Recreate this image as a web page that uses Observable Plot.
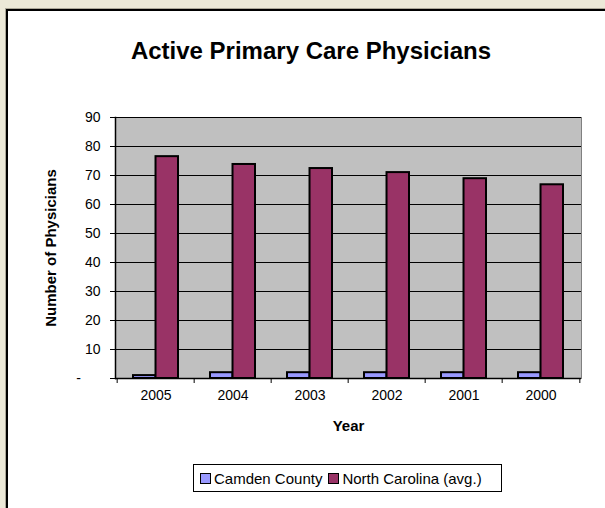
<!DOCTYPE html>
<html><head><meta charset="utf-8">
<script src="https://cdn.jsdelivr.net/npm/d3@7"></script>
<script src="https://cdn.jsdelivr.net/npm/@observablehq/plot@0.6"></script>
<style>
html,body{margin:0;padding:0;background:#ECE9D8;width:605px;height:508px;overflow:hidden;font-family:"Liberation Sans",Arial,sans-serif;}
#panel{position:absolute;left:6px;top:9px;width:700px;height:600px;background:#fff;border-left:2px solid #000;border-top:2px solid #000;box-shadow:-1px -1px 0 #aca899;}
#chart{position:absolute;left:0;top:0;}
#title{position:absolute;left:0;width:622px;top:37px;text-align:center;font-weight:bold;font-size:24px;color:#000;white-space:nowrap;}
#legend{position:absolute;left:193px;top:464px;width:307px;height:26px;border:1px solid #000;background:#fff;display:flex;align-items:center;font-size:15px;color:#000;}
.item{display:flex;align-items:center;margin-left:6px;}
.sw{width:9px;height:9px;border:1.5px solid #000;margin-right:3px;}
</style></head>
<body>
<div id="panel"></div>
<div id="chart"></div>
<div id="title">Active Primary Care Physicians</div>
<div id="legend"></div>
<script>
const years = ["2005","2004","2003","2002","2001","2000"];
const camden = [1,2,2,2,2,2];
const northCarolina = [76.5,73.8,72.4,71.0,68.9,66.8];
const seriesNames = ["Camden County","North Carolina (avg.)"];
const seriesColors = ["#9999FF","#993366"];
const yTicks = [10,20,30,40,50,60,70,80,90];

const rows = years.flatMap((y,i)=>[
  {year:y, series:seriesNames[0], value:camden[i]},
  {year:y, series:seriesNames[1], value:northCarolina[i]}
]);

const W = 605, H = 508;
const mL = 115, mR = 24, mT = 117, mB = 130;
const step = (W - mL - mR) / years.length;
const bw = step * 0.58;

const plot = Plot.plot({
  width: W, height: H,
  marginLeft: mL, marginRight: mR, marginTop: mT, marginBottom: mB,
  style: {fontFamily: "'Liberation Sans', Arial, sans-serif", fontSize: "14px", background: "transparent", color: "#000"},
  x: {domain: years, paddingInner: 0.42, paddingOuter: 0.21, label: null},
  y: {domain: [0, 90], label: null},
  color: {domain: seriesNames, range: seriesColors},
  marks: [
    Plot.frame({fill: "#C0C0C0", stroke: "#808080"}),
    Plot.ruleY(yTicks, {stroke: "#000", strokeWidth: 1}),
    Plot.barY(rows.filter(d=>d.series===seriesNames[0]), {x: "year", y: "value", fill: "series", stroke: "#000", strokeWidth: 2, insetRight: bw/2}),
    Plot.barY(rows.filter(d=>d.series===seriesNames[1]), {x: "year", y: "value", fill: "series", stroke: "#000", strokeWidth: 2, insetLeft: bw/2}),
    Plot.ruleY([0], {stroke: "#000", strokeWidth: 1.5}),
    Plot.frame({anchor: "left", stroke: "#000", strokeWidth: 1.5}),
    Plot.axisY({ticks: [0, ...yTicks], tickSize: 5, tickPadding: 10, tickFormat: d => d === 0 ? "" : d, label: null, stroke: "#000", fontSize: 14}),
    Plot.text([0], {y: d => d, text: () => "-", frameAnchor: "left", dx: -37, textAnchor: "middle", fontSize: 14}),
    Plot.axisX({tickSize: 5, dx: -step/2, text: null, label: null, stroke: "#000"}),
    Plot.axisX({ticks: [years[years.length-1]], tickSize: 5, dx: step/2, text: null, label: null, stroke: "#000"}),
    Plot.axisX({tickSize: 0, tickPadding: 12, label: null, fontSize: 14}),
    Plot.text(["Number of Physicians"], {frameAnchor: "left", dx: -64, rotate: -90, textAnchor: "middle", fontWeight: "bold", fontSize: 15, text: d => d}),
    Plot.text(["Year"], {frameAnchor: "bottom", dy: 52, fontWeight: "bold", fontSize: 15, text: d => d})
  ]
});
document.getElementById("chart").appendChild(plot);

const legend = document.getElementById("legend");
seriesNames.forEach((name, i) => {
  const item = document.createElement("div");
  item.className = "item";
  const sw = document.createElement("div");
  sw.className = "sw";
  sw.style.background = seriesColors[i];
  const t = document.createElement("span");
  t.textContent = name;
  item.appendChild(sw); item.appendChild(t);
  legend.appendChild(item);
});
</script>
</body></html>
